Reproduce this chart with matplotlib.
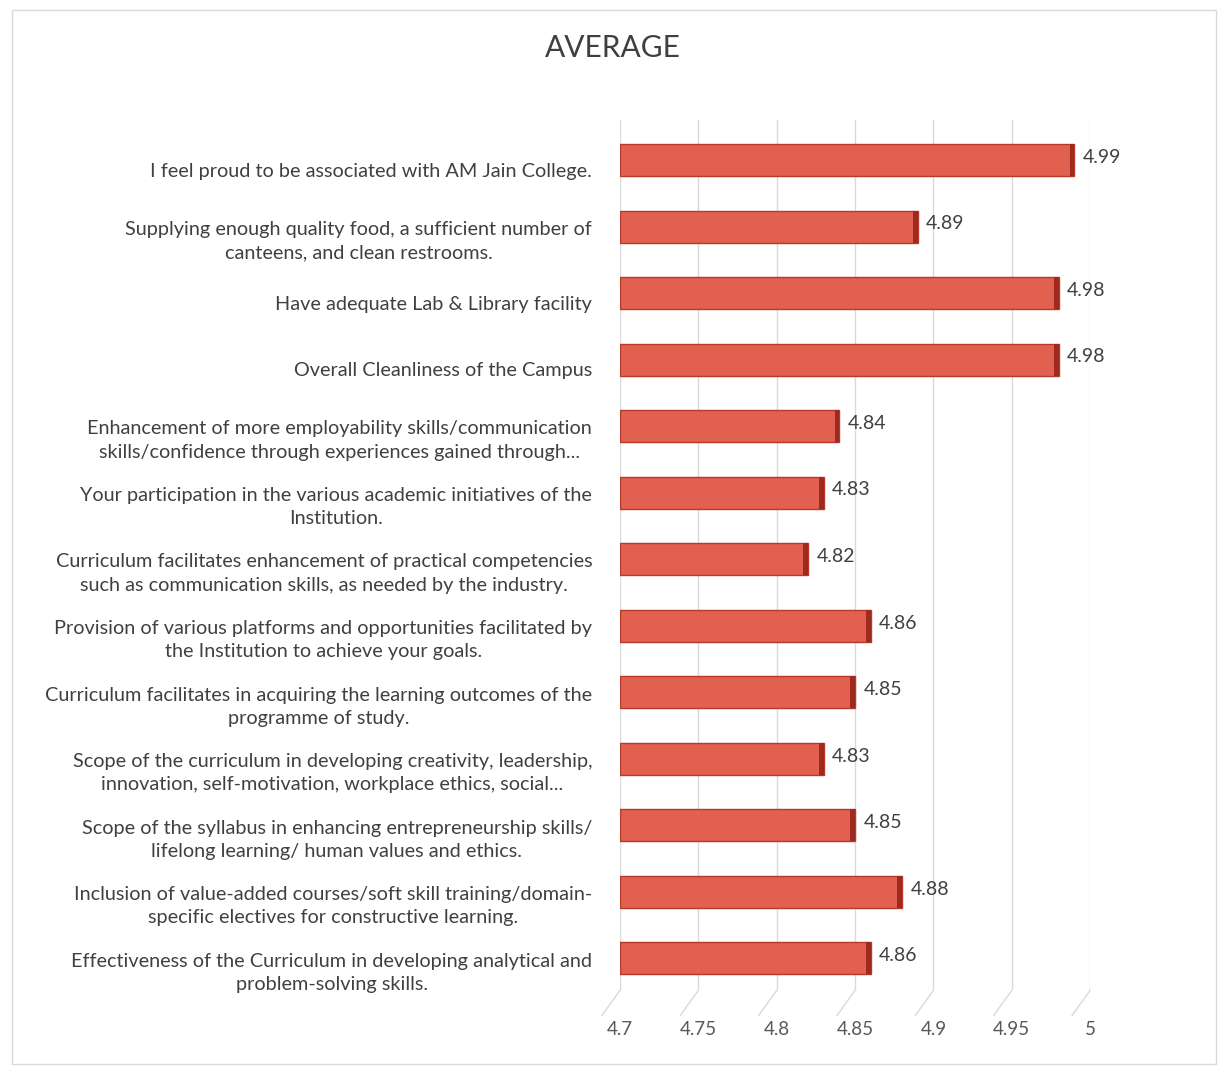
import matplotlib
matplotlib.use('Agg')
import matplotlib.pyplot as plt
import matplotlib.transforms as mtransforms
from matplotlib.patches import Rectangle
import numpy as np

plt.rcParams['font.family'] = ['Lato', 'DejaVu Sans']

# survey statements, top to bottom
questions = [
    'I feel proud to be associated with AM Jain College.',
    'Supplying enough quality food, a sufficient number of\ncanteens, and clean restrooms.',
    'Have adequate Lab & Library facility',
    'Overall Cleanliness of the Campus',
    'Enhancement of more employability skills/communication\nskills/confidence through experiences gained through...',
    'Your participation in the various academic initiatives of the\nInstitution.',
    'Curriculum facilitates enhancement of practical competencies\nsuch as communication skills, as needed by the industry.',
    'Provision of various platforms and opportunities facilitated by\nthe Institution to achieve your goals.',
    'Curriculum facilitates in acquiring the learning outcomes of the\nprogramme of study.',
    'Scope of the curriculum in developing creativity, leadership,\ninnovation, self-motivation, workplace ethics, social...',
    'Scope of the syllabus in enhancing entrepreneurship skills/\nlifelong learning/ human values and ethics.',
    'Inclusion of value-added courses/soft skill training/domain-\nspecific electives for constructive learning.',
    'Effectiveness of the Curriculum in developing analytical and\nproblem-solving skills.',
]
averages = [4.99, 4.89, 4.98, 4.98, 4.84, 4.83, 4.82, 4.86, 4.85, 4.83, 4.85, 4.88, 4.86]
x_ticks = [4.7, 4.75, 4.8, 4.85, 4.9, 4.95, 5.0]
x_tick_labels = ['4.7', '4.75', '4.8', '4.85', '4.9', '4.95', '5']

fig = plt.figure(figsize=(12.18, 10.73), dpi=100)
ax = fig.add_axes([0.509, 0.077, 0.386, 0.811])

y = np.arange(len(questions))
base = 4.7

# main bars
ax.barh(y, np.array(averages) - base, left=base, height=0.48,
        color='#e2604f', edgecolor='#b8382a', linewidth=1.0, zorder=3)
# darker end cap to hint at the 3d look
ax.barh(y, 0.003, left=np.array(averages) - 0.003, height=0.48,
        color='#9e2a1f', linewidth=0, zorder=4)

# value labels
for yi, v in zip(y, averages):
    ax.annotate('%.2f' % v, xy=(v, yi), xytext=(6, 2), textcoords='offset points',
                va='center', ha='left', fontsize=14, color='#404040', zorder=5)

ax.set_xlim(4.7, 5.0)
ax.set_ylim(12.48, -0.6)
ax.set_xticks(x_ticks)
ax.set_xticklabels(x_tick_labels)
ax.set_yticks(y)
ax.set_yticklabels(questions)

ax.tick_params(axis='y', length=0, pad=20, labelsize=14.3, labelcolor='#404040')
ax.tick_params(axis='x', length=0, pad=22, labelsize=13.5, labelcolor='#595959')

# category labels sit a little lower than the bars (perspective)
shift = mtransforms.ScaledTranslation(0, -7 / 72, fig.dpi_scale_trans)
for tick in ax.yaxis.get_major_ticks():
    tick.label1.set_multialignment('center')
    tick.label1.set_linespacing(1.45)
    tick.label1.set_transform(tick.label1.get_transform() + shift)

ax.grid(axis='x', color='#d9d9d9', linewidth=1, zorder=0)
for s in ax.spines.values():
    s.set_visible(False)

# floor lines of the 3d chart below each gridline
floor = mtransforms.blended_transform_factory(ax.transData, ax.transAxes)
for t in x_ticks:
    x0, y0 = floor.transform((t, 0))
    ax.plot([x0, x0 - 18], [y0, y0 - 25], transform=None, color='#d9d9d9',
            linewidth=1, clip_on=False)

fig.text(0.503, 0.955, 'AVERAGE', ha='center', va='center', fontsize=21.5, color='#404040')

# light chart border
fig.patches.append(Rectangle((0.01, 0.008), 0.988, 0.983, transform=fig.transFigure,
                             fill=False, edgecolor='#d9d9d9', linewidth=1))

fig.savefig('out.png', dpi=100, facecolor='white')
